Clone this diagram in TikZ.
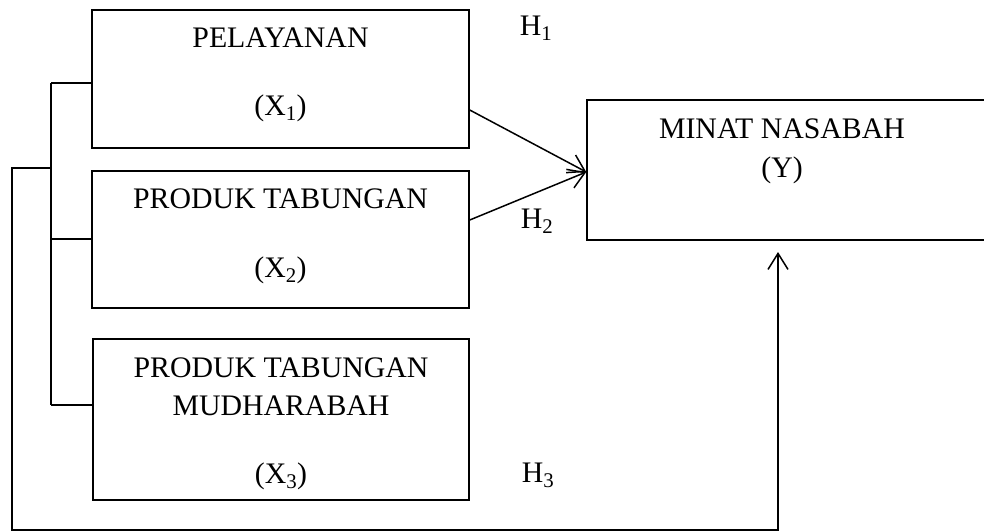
\documentclass[tikz,border=0pt]{standalone}
\usepackage{fontspec}
\setmainfont{Liberation Serif}
\usetikzlibrary{arrows.meta}
\begin{document}
\begin{tikzpicture}[x=1pt,y=-1pt,
  every path/.style={line width=1.5pt},
  boxnode/.style={draw,line width=1.5pt,rectangle,inner sep=0pt},
  txt/.style={anchor=base,inner sep=0pt,font=\fontsize{29.8}{34}\selectfont},
  tip/.style={-{Straight Barb[length=16pt,width=20pt,line width=1.5pt]}}]
\useasboundingbox (0,0) rectangle (984,531);
% boxes
\node[boxnode,minimum width=377pt,minimum height=138pt] (b1) at (280.5,79) {};
\node[boxnode,minimum width=377pt,minimum height=137pt] (b2) at (280.5,239.5) {};
\node[boxnode,minimum width=376pt,minimum height=161pt] (b3) at (281,419.5) {};
\node[boxnode,minimum width=420pt,minimum height=140pt] (y) at (797,170) {};
% texts
\node[txt] (t1a) at (280.5,47) {PELAYANAN};
\node[txt] (t1b) at (280.5,115) {(X\textsubscript{1})};
\node[txt] (t2a) at (280.5,208) {PRODUK TABUNGAN};
\node[txt] (t2b) at (280.5,277) {(X\textsubscript{2})};
\node[txt] (t3a) at (281,377) {PRODUK TABUNGAN};
\node[txt] (t3b) at (281,415) {MUDHARABAH};
\node[txt] (t3c) at (281,483) {(X\textsubscript{3})};
\node[txt] (ya) at (782,138) {MINAT NASABAH};
\node[txt] (yb) at (782,177) {(Y)};
\node[txt,anchor=base west] (h1) at (519,35) {H\textsubscript{1}};
\node[txt,anchor=base west] (h2) at (520,228) {H\textsubscript{2}};
\node[txt,anchor=base west] (h3) at (521,482) {H\textsubscript{3}};
% bracket
\coordinate (j1) at (51,83);
\coordinate (j2) at (51,239);
\coordinate (j3) at (51,405);
\coordinate (jm) at (51,168);
\draw (j1) -- (j3);
\draw (j1) -- (j1 -| b1.west);
\draw (j2) -- (j2 -| b2.west);
\draw (j3) -- (j3 -| b3.west);
% outer path to Y
\coordinate (c1) at (12,168);
\coordinate (c2) at (12,530);
\coordinate (c3) at (778,530);
\coordinate (ytip) at (778,252);
\draw[tip] (jm) -- (c1) -- (c2) -- (c3) -- (ytip);
% arrows
\coordinate (a1) at (469,110);
\coordinate (a2) at (469,220);
\coordinate (yin) at (587,172);
\draw[tip] (a1 -| b1.east) -- (yin -| y.west);
\draw[tip] (a2 -| b2.east) -- (yin -| y.west);
\end{tikzpicture}
\end{document}
